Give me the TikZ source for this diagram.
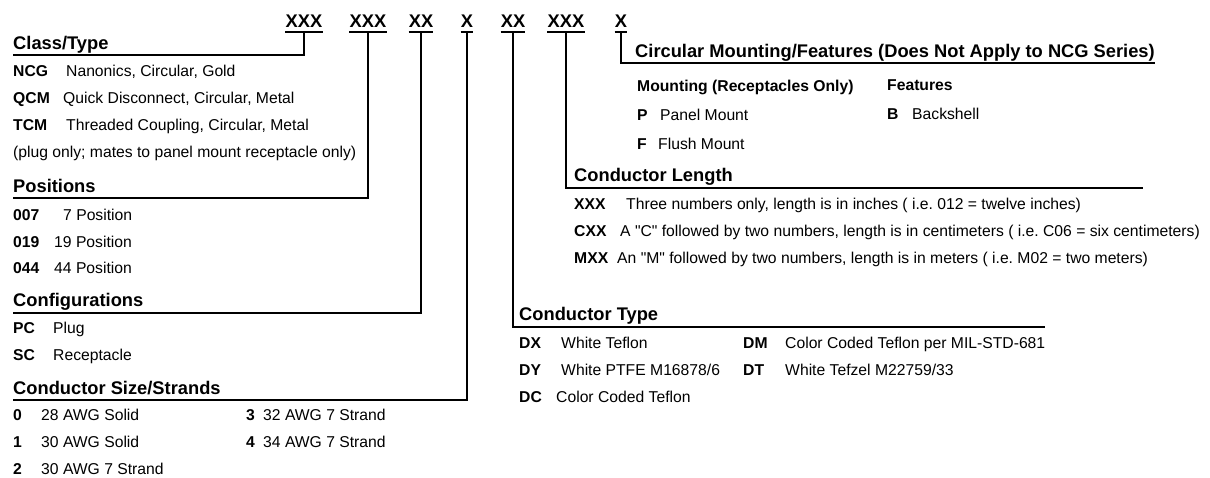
\documentclass[tikz,border=0pt]{standalone}
\usepackage{fontspec}
\setmainfont[Ligatures=TeXOff]{Liberation Sans}
\usepackage{tikz}
\frenchspacing

\begin{document}
\begin{tikzpicture}[x=1pt,y=-1pt,
  code/.style={font=\bfseries\fontsize{18.3}{20}\selectfont,inner sep=0pt,anchor=base},
  head/.style={font=\bfseries\fontsize{18.3}{20}\selectfont,inner sep=0pt,anchor=base west},
  sub/.style={font=\bfseries\fontsize{15.7}{18}\selectfont,inner sep=0pt,anchor=base west},
  key/.style={font=\bfseries\fontsize{15.7}{18}\selectfont,inner sep=0pt,anchor=base west},
  txt/.style={font=\fontsize{15.7}{18}\selectfont,inner sep=0pt,anchor=base west},
  wire/.style={line width=1.2pt}]
\useasboundingbox (0,0) rectangle (1210,477);
% part number
\node[code] (c1) at (304,27) {XXX};
\node[code] (c2) at (368,27) {XXX};
\node[code] (c3) at (421,27) {XX};
\node[code] (c4) at (467,27) {X};
\node[code] (c5) at (513,27) {XX};
\node[code] (c6) at (566,27) {XXX};
\node[code] (c7) at (621,27) {X};
\foreach \n in {c1,c2,c3,c4,c5,c6,c7}
  \draw[wire] ([yshift=-5pt]\n.base west) -- ([yshift=-5pt]\n.base east);
% Class/Type
\node[head] (hcls) at (13,49) {Class/Type};
\node[key] (kncg) at (13,76) {NCG};
\node[txt] (tncg) at (66,76) {Nanonics, Circular, Gold};
\node[key] (kqcm) at (13,103) {QCM};
\node[txt] (tqcm) at (63,103) {Quick Disconnect, Circular, Metal};
\node[key] (ktcm) at (13,130) {TCM};
\node[txt] (ttcm) at (66,130) {Threaded Coupling, Circular, Metal};
\node[txt] (tplug) at (13,157) {(plug only; mates to panel mount receptacle only)};
% Positions
\node[head] (hpos) at (13,192) {Positions};
\node[key] (k007) at (13,220) {007};
\node[txt] (t007) at (63,220) {7 Position};
\node[key] (k019) at (13,247) {019};
\node[txt] (t019) at (54,247) {19 Position};
\node[key] (k044) at (13,273) {044};
\node[txt] (t044) at (54,273) {44 Position};
% Configurations
\node[head] (hconf) at (13,306) {Configurations};
\node[key] (kpc) at (13,333) {PC};
\node[txt] (tpc) at (53,333) {Plug};
\node[key] (ksc) at (13,360) {SC};
\node[txt] (tsc) at (53,360) {Receptacle};
% Conductor Size/Strands
\node[head] (hsize) at (13,394) {Conductor Size/Strands};
\node[key] (k0) at (13,420) {0};
\node[txt] (t0) at (41,420) {28 AWG Solid};
\node[key] (k1) at (13,447) {1};
\node[txt] (t1) at (41,447) {30 AWG Solid};
\node[key] (k2) at (13,474) {2};
\node[txt] (t2) at (41,474) {30 AWG 7 Strand};
\node[key] (k3) at (246,420) {3};
\node[txt] (t3) at (263,420) {32 AWG 7 Strand};
\node[key] (k4) at (246,447) {4};
\node[txt] (t4) at (263,447) {34 AWG 7 Strand};
% Circular Mounting/Features
\node[head] (hcirc) at (635,57) {Circular Mounting/Features (Does Not Apply to NCG Series)};
\node[sub] (smount) at (637,91) {Mounting (Receptacles Only)};
\node[sub] (sfeat) at (887,90) {Features};
\node[key] (kp) at (637,120) {P};
\node[txt] (tp) at (660,120) {Panel Mount};
\node[key] (kf) at (637,149) {F};
\node[txt] (tf) at (658,149) {Flush Mount};
\node[key] (kb) at (887,119) {B};
\node[txt] (tb) at (912,119) {Backshell};
% Conductor Length
\node[head] (hlen) at (574,181) {Conductor Length};
\node[key] (kxxx) at (574,209) {XXX};
\node[txt] (txxx) at (626,209) {Three numbers only, length is in inches ( i.e. 012 = twelve inches)};
\node[key] (kcxx) at (574,236) {CXX};
\node[txt] (tcxx) at (620,236) {A "C" followed by two numbers, length is in centimeters ( i.e. C06 = six centimeters)};
\node[key] (kmxx) at (574,263) {MXX};
\node[txt] (tmxx) at (617,263) {An "M" followed by two numbers, length is in meters ( i.e. M02 = two meters)};
% Conductor Type
\node[head] (htype) at (519,320) {Conductor Type};
\node[key] (kdx) at (519,348) {DX};
\node[txt] (tdx) at (561,348) {White Teflon};
\node[key] (kdy) at (519,375) {DY};
\node[txt] (tdy) at (561,375) {White PTFE M16878/6};
\node[key] (kdc) at (519,402) {DC};
\node[txt] (tdc) at (556,402) {Color Coded Teflon};
\node[key] (kdm) at (743,348) {DM};
\node[txt] (tdm) at (785,348) {Color Coded Teflon per MIL-STD-681};
\node[key] (kdt) at (743,375) {DT};
\node[txt] (tdt) at (785,375) {White Tefzel M22759/33};
% leader lines
\coordinate (lenend) at (1143,0);
\coordinate (lenul) at ([yshift=-7pt]hlen.base west);
\coordinate (typeul) at ([yshift=-7pt]htype.base west);
\draw[wire] ([yshift=-5pt]c1.base) |- ([yshift=-6pt]hcls.base west);
\draw[wire] ([yshift=-5pt]c2.base) |- ([yshift=-6pt]hpos.base west);
\draw[wire] ([yshift=-5pt]c3.base) |- ([yshift=-7pt]hconf.base west);
\draw[wire] ([yshift=-5pt]c4.base) |- ([yshift=-6pt]hsize.base west);
\draw[wire] ([yshift=-5pt]c5.base) |- (typeul -| tdm.east);
\draw[wire] ([yshift=-5pt]c6.base) |- (lenul -| lenend);
\draw[wire] ([yshift=-5pt]c7.base) |- ([yshift=-6pt]hcirc.base east);
\end{tikzpicture}
\end{document}
